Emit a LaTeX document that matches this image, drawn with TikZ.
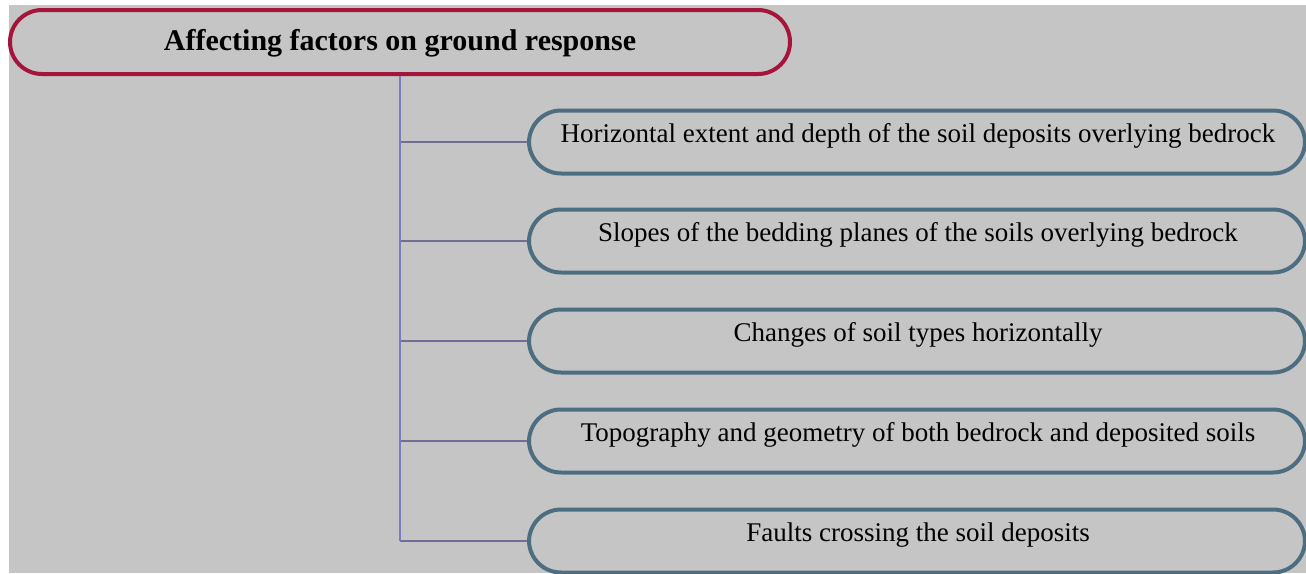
\documentclass[tikz,border=0pt]{standalone}
\usepackage{fontspec}
\setmainfont{Liberation Serif}
\definecolor{bggray}{HTML}{C5C5C5}
\definecolor{crimsonb}{HTML}{A5153B}
\definecolor{steelb}{HTML}{4D6E80}
\definecolor{linepurple}{HTML}{7B7BBD}
\definecolor{linegray}{HTML}{6E6E96}
\tikzset{
  titlebox/.style={draw=crimsonb, line width=4pt, rounded corners=32pt, minimum width=780pt, minimum height=64pt, inner sep=0pt},
  factorbox/.style={draw=steelb, line width=4pt, rounded corners=32pt, minimum width=776pt, minimum height=63pt, inner sep=0pt},
  titletext/.style={anchor=base, font=\fontsize{30}{34}\selectfont\bfseries, inner sep=0pt},
  factortext/.style={anchor=base, font=\fontsize{27}{31}\selectfont, inner sep=0pt},
  trunk/.style={draw=linepurple, line width=2pt},
  branch/.style={draw=linegray, line width=1.5pt}
}
\begin{document}
\begin{tikzpicture}[x=1pt,y=-1pt]
\useasboundingbox (0,0) rectangle (1306,573);
\fill[white] (0,0) rectangle (1306,573);
\fill[bggray] (9,5) rectangle (1306,573);
\node[titlebox] (title) at (400,42) {};
\node[titletext] (titlet) at (400,50) {Affecting factors on ground response};
\node[factorbox] (b1) at (917,142) {};
\node[factorbox] (b2) at (917,241) {};
\node[factorbox] (b3) at (917,341) {};
\node[factorbox] (b4) at (917,441) {};
\node[factorbox] (b5) at (917,541) {};
\node[factortext] (t1) at (918,142.5) {Horizontal extent and depth of the soil deposits overlying bedrock};
\node[factortext] (t2) at (918,241.5) {Slopes of the bedding planes of the soils overlying bedrock};
\node[factortext] (t3) at (918,341.5) {Changes of soil types horizontally};
\node[factortext] (t4) at (918,441.5) {Topography and geometry of both bedrock and deposited soils};
\node[factortext] (t5) at (918,541.5) {Faults crossing the soil deposits};
\draw[branch] (b1.west) -- (b1.west -| title.south);
\draw[branch] (b2.west) -- (b2.west -| title.south);
\draw[branch] (b3.west) -- (b3.west -| title.south);
\draw[branch] (b4.west) -- (b4.west -| title.south);
\draw[branch] (b5.west) -- (b5.west -| title.south);
\draw[trunk] (title.south) -- (b5.west -| title.south);
\end{tikzpicture}
\end{document}
